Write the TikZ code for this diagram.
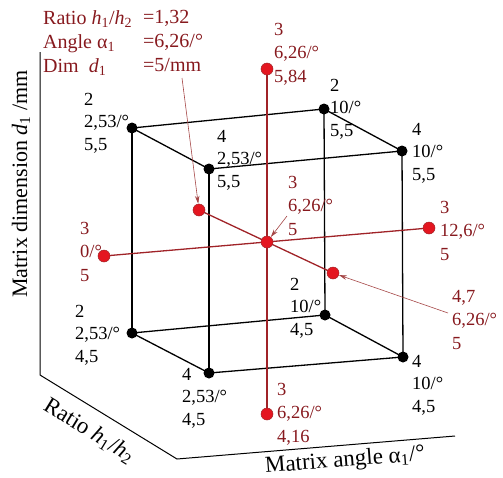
\documentclass[tikz,border=0pt]{standalone}
\usepackage{fontspec}
\setmainfont{Liberation Serif}
\usetikzlibrary{arrows.meta}
\definecolor{lblred}{RGB}{135,25,30}
\definecolor{linered}{RGB}{160,35,40}
\definecolor{dotred}{RGB}{228,22,32}
\definecolor{arrred}{RGB}{165,70,70}
\begin{document}
\begin{tikzpicture}[x=1pt,y=-1pt,
  edge/.style={line width=1.3pt,black},
  axisline/.style={line width=1pt,black},
  redline/.style={line width=1.3pt,linered},
  bdot/.style={circle,fill=black,inner sep=0pt,minimum size=11pt},
  rdot/.style={circle,fill=dotred,draw=linered,line width=0.5pt,inner sep=0pt,minimum size=12pt},
  blbl/.style={anchor=north west,inner sep=0pt,align=left,font=\fontsize{18.5}{22.5}\selectfont},
  rlbl/.style={anchor=north west,inner sep=0pt,align=left,text=lblred,font=\fontsize{18.5}{23.5}\selectfont},
  hlbl/.style={anchor=north west,inner sep=0pt,align=left,text=lblred,font=\fontsize{20}{24}\selectfont},
  thinarrow/.style={arrred,line width=0.6pt,-{Stealth[length=8pt,width=4.5pt]}},
  axislbl/.style={inner sep=0pt,font=\fontsize{23}{27}\selectfont},
  vaxislbl/.style={inner sep=0pt,font=\fontsize{22}{26}\selectfont}
]
\useasboundingbox (0,0) rectangle (503,477);

% cube corners
\coordinate (btl) at (132,128);
\coordinate (btr) at (324,109);
\coordinate (ftl) at (209,169);
\coordinate (ftr) at (402,151);
\coordinate (bbl) at (132,333);
\coordinate (bbr) at (325,315);
\coordinate (fbl) at (209,373);
\coordinate (fbr) at (403,357);

% axes
\coordinate (ax1) at (40,52);
\coordinate (ax2) at (40,375);
\coordinate (ax3) at (177,459);
\coordinate (ax4) at (455,436);
\draw[axisline] (ax1) -- (ax2) -- (ax3) -- (ax4);

% cube edges
\draw[edge] (btl) -- (btr) -- (ftr) -- (ftl) -- cycle;
\draw[edge] (bbl) -- (bbr) -- (fbr) -- (fbl) -- cycle;
\draw[edge] (btl) -- (bbl);
\draw[edge] (btr) -- (bbr);
\draw[edge] (ftl) -- (fbl);
\draw[edge] (ftr) -- (fbr);

% red design points
\coordinate (pt) at (267,69);
\coordinate (pb) at (267,414);
\coordinate (pc) at (267,242);
\coordinate (pl) at (104,256);
\coordinate (pr) at (429,228);
\coordinate (pk) at (199,210);
\coordinate (pf) at (333,273);
\draw[redline] (pt) -- (pb);
\draw[redline] (pl) -- (pr);
\draw[redline] (pk) -- (pf);

% dots
\node[bdot] (dbtl) at (btl) {};
\node[bdot] (dbtr) at (btr) {};
\node[bdot] (dftl) at (ftl) {};
\node[bdot] (dftr) at (ftr) {};
\node[bdot] (dbbl) at (bbl) {};
\node[bdot] (dbbr) at (bbr) {};
\node[bdot] (dfbl) at (fbl) {};
\node[bdot] (dfbr) at (fbr) {};
\node[rdot] (rtop) at (pt) {};
\node[rdot] (rbot) at (pb) {};
\node[rdot] (rcen) at (pc) {};
\node[rdot] (rleft) at (pl) {};
\node[rdot] (rright) at (pr) {};
\node[rdot] (rback) at (pk) {};
\node[rdot] (rfront) at (pf) {};

% black labels
\node[blbl] (lbtl) at (84,93) {2\\2,53/°\\5,5};
\node[blbl] (lftl) at (217,130) {4\\2,53/°\\5,5};
\node[blbl] (lbtr) at (330,79) {2\\10/°\\5,5};
\node[blbl] (lftr) at (412,123) {4\\10/°\\5,5};
\node[blbl] (lbbl) at (75,305) {2\\2,53/°\\4,5};
\node[blbl] (lbbr) at (290,278) {2\\10/°\\4,5};
\node[blbl] (lfbl) at (182,368) {4\\2,53/°\\4,5};
\node[blbl] (lfbr) at (412,355) {4\\10/°\\4,5};

% red labels
\node[rlbl] (ltop) at (274,23) {3\\6,26/°\\5,84};
\node[rlbl] (lcen) at (288,176) {3\\6,26/°\\5};
\node[rlbl] (lright) at (440,201) {3\\12,6/°\\5};
\node[rlbl] (lleft) at (80,222) {3\\0/°\\5};
\node[rlbl] (lfront) at (452,290) {4,7\\6,26/°\\5};
\node[rlbl] (lbot) at (277,383) {3\\6,26/°\\4,16};

% header
\node[hlbl] (hleft) at (43,10) {Ratio \textit{h}\textsubscript{1}/\textit{h}\textsubscript{2}\\Angle α\textsubscript{1}\\Dim\ \ \textit{d}\textsubscript{1}};
\node[hlbl] (hright) at (143,10) {=1,32\\=6,26/°\\=5/mm};

% pointer arrows
\coordinate (a1) at (182,78);
\coordinate (a2) at (287,216);
\coordinate (a3) at (448,313);
\draw[thinarrow] (a1) -- (rback);
\draw[thinarrow] (a2) -- (rcen);
\draw[thinarrow] (a3) -- (rfront);

% axis labels
\node[vaxislbl,rotate=90] (ylab) at (21,184) {Matrix dimension \textit{d}\textsubscript{1} /mm};
\node[axislbl,rotate=-31.5] (rlab) at (89,431) {Ratio \textit{h}\textsubscript{1}/\textit{h}\textsubscript{2}};
\node[axislbl,rotate=4.5] (alab) at (345,461) {Matrix angle α\textsubscript{1}/°};
\end{tikzpicture}
\end{document}
